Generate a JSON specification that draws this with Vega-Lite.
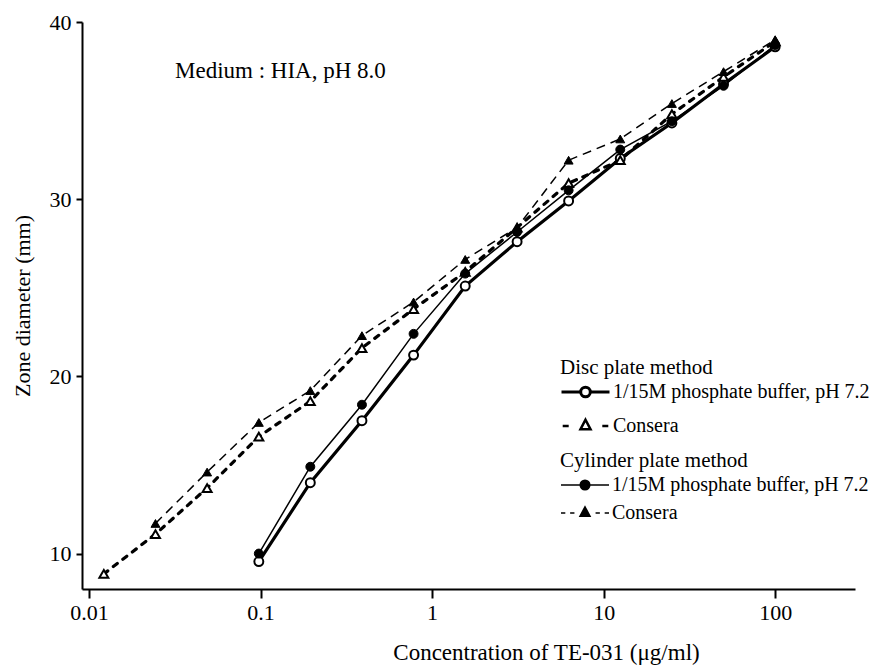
{
  "$schema": "https://vega.github.io/schema/vega-lite/v6.json",
  "width": 773,
  "height": 567,
  "autosize": "none",
  "padding": {"left": 82, "top": 22, "right": 39, "bottom": 81},
  "background": "white",
  "title": {
    "text": "Medium : HIA,  pH 8.0",
    "anchor": "start",
    "frame": "group",
    "orient": "top",
    "baseline": "alphabetic",
    "offset": -90,
    "dx": 93,
    "font": "Liberation Serif",
    "fontSize": 23,
    "fontWeight": "normal",
    "color": "black"
  },
  "data": {
    "values": [
      {"method": "Disc", "sample": "1/15M phosphate buffer, pH 7.2", "conc": 0.0977, "d": 9.55},
      {"method": "Disc", "sample": "1/15M phosphate buffer, pH 7.2", "conc": 0.195, "d": 14.0},
      {"method": "Disc", "sample": "1/15M phosphate buffer, pH 7.2", "conc": 0.39, "d": 17.5},
      {"method": "Disc", "sample": "1/15M phosphate buffer, pH 7.2", "conc": 0.78, "d": 21.2},
      {"method": "Disc", "sample": "1/15M phosphate buffer, pH 7.2", "conc": 1.56, "d": 25.1},
      {"method": "Disc", "sample": "1/15M phosphate buffer, pH 7.2", "conc": 3.13, "d": 27.6},
      {"method": "Disc", "sample": "1/15M phosphate buffer, pH 7.2", "conc": 6.25, "d": 29.9},
      {"method": "Disc", "sample": "1/15M phosphate buffer, pH 7.2", "conc": 12.5, "d": 32.3},
      {"method": "Disc", "sample": "1/15M phosphate buffer, pH 7.2", "conc": 25, "d": 34.3},
      {"method": "Disc", "sample": "1/15M phosphate buffer, pH 7.2", "conc": 50, "d": 36.5},
      {"method": "Disc", "sample": "1/15M phosphate buffer, pH 7.2", "conc": 100, "d": 38.6},
      {"method": "Disc", "sample": "Consera", "conc": 0.0122, "d": 8.85},
      {"method": "Disc", "sample": "Consera", "conc": 0.0244, "d": 11.1},
      {"method": "Disc", "sample": "Consera", "conc": 0.0488, "d": 13.7},
      {"method": "Disc", "sample": "Consera", "conc": 0.0977, "d": 16.6},
      {"method": "Disc", "sample": "Consera", "conc": 0.195, "d": 18.6},
      {"method": "Disc", "sample": "Consera", "conc": 0.39, "d": 21.6},
      {"method": "Disc", "sample": "Consera", "conc": 0.78, "d": 23.8},
      {"method": "Disc", "sample": "Consera", "conc": 1.56, "d": 25.9},
      {"method": "Disc", "sample": "Consera", "conc": 3.13, "d": 28.4},
      {"method": "Disc", "sample": "Consera", "conc": 6.25, "d": 30.9},
      {"method": "Disc", "sample": "Consera", "conc": 12.5, "d": 32.2},
      {"method": "Disc", "sample": "Consera", "conc": 25, "d": 34.8},
      {"method": "Disc", "sample": "Consera", "conc": 50, "d": 36.9},
      {"method": "Disc", "sample": "Consera", "conc": 100, "d": 38.9},
      {"method": "Cylinder", "sample": "1/15M phosphate buffer, pH 7.2", "conc": 0.0977, "d": 10.0},
      {"method": "Cylinder", "sample": "1/15M phosphate buffer, pH 7.2", "conc": 0.195, "d": 14.9},
      {"method": "Cylinder", "sample": "1/15M phosphate buffer, pH 7.2", "conc": 0.39, "d": 18.4},
      {"method": "Cylinder", "sample": "1/15M phosphate buffer, pH 7.2", "conc": 0.78, "d": 22.4},
      {"method": "Cylinder", "sample": "1/15M phosphate buffer, pH 7.2", "conc": 1.56, "d": 25.8},
      {"method": "Cylinder", "sample": "1/15M phosphate buffer, pH 7.2", "conc": 3.13, "d": 28.15},
      {"method": "Cylinder", "sample": "1/15M phosphate buffer, pH 7.2", "conc": 6.25, "d": 30.5},
      {"method": "Cylinder", "sample": "1/15M phosphate buffer, pH 7.2", "conc": 12.5, "d": 32.8},
      {"method": "Cylinder", "sample": "1/15M phosphate buffer, pH 7.2", "conc": 25, "d": 34.4},
      {"method": "Cylinder", "sample": "1/15M phosphate buffer, pH 7.2", "conc": 50, "d": 36.4},
      {"method": "Cylinder", "sample": "1/15M phosphate buffer, pH 7.2", "conc": 100, "d": 38.7},
      {"method": "Cylinder", "sample": "Consera", "conc": 0.0244, "d": 11.7},
      {"method": "Cylinder", "sample": "Consera", "conc": 0.0488, "d": 14.6},
      {"method": "Cylinder", "sample": "Consera", "conc": 0.0977, "d": 17.4},
      {"method": "Cylinder", "sample": "Consera", "conc": 0.195, "d": 19.2},
      {"method": "Cylinder", "sample": "Consera", "conc": 0.39, "d": 22.3},
      {"method": "Cylinder", "sample": "Consera", "conc": 0.78, "d": 24.2},
      {"method": "Cylinder", "sample": "Consera", "conc": 1.56, "d": 26.6},
      {"method": "Cylinder", "sample": "Consera", "conc": 3.13, "d": 28.4},
      {"method": "Cylinder", "sample": "Consera", "conc": 6.25, "d": 32.2},
      {"method": "Cylinder", "sample": "Consera", "conc": 12.5, "d": 33.4},
      {"method": "Cylinder", "sample": "Consera", "conc": 25, "d": 35.4},
      {"method": "Cylinder", "sample": "Consera", "conc": 50, "d": 37.2},
      {"method": "Cylinder", "sample": "Consera", "conc": 100, "d": 39.0}
    ]
  },
  "encoding": {
    "x": {
      "field": "conc",
      "type": "quantitative",
      "scale": {"type": "log", "domain": [0.0091, 292], "nice": false},
      "axis": {
        "title": "Concentration of TE-031 (μg/ml)",
        "values": [0.01, 0.1, 1, 10, 100],
        "format": "~g",
        "grid": false,
        "domainColor": "black",
        "domainWidth": 2,
        "tickColor": "black",
        "tickWidth": 2,
        "tickSize": 9,
        "labelFont": "Liberation Serif",
        "labelFontSize": 22,
        "labelColor": "black",
        "labelPadding": 4,
        "titleFont": "Liberation Serif",
        "titleFontSize": 23,
        "titleFontWeight": "normal",
        "titleColor": "black",
        "titleX": 464,
        "titleY": 63,
        "titleBaseline": "middle"
      }
    },
    "y": {
      "field": "d",
      "type": "quantitative",
      "scale": {"domain": [8, 40], "nice": false, "zero": false},
      "axis": {
        "title": "Zone diameter (mm)",
        "values": [10, 20, 30, 40],
        "grid": false,
        "domainColor": "black",
        "domainWidth": 2,
        "tickColor": "black",
        "tickWidth": 2,
        "tickSize": 6,
        "labelFont": "Liberation Serif",
        "labelFontSize": 22,
        "labelColor": "black",
        "labelPadding": 5,
        "titleFont": "Liberation Serif",
        "titleFontSize": 22,
        "titleFontWeight": "normal",
        "titleColor": "black",
        "titleX": -60,
        "titleBaseline": "middle"
      }
    }
  },
  "layer": [
    {
      "transform": [{"filter": "datum.method === 'Disc' && datum.sample !== 'Consera'"}],
      "mark": {"type": "line", "stroke": "black", "strokeWidth": 3.2, "strokeCap": "round"},
      "encoding": {
        "opacity": {
          "field": "sample",
          "type": "ordinal",
          "scale": {"type": "ordinal", "range": [1]},
          "legend": {
            "title": "Disc plate method",
            "orient": "none",
            "legendX": 478,
            "legendY": 335,
            "padding": 0,
            "symbolType": "M-1,0L-0.2,0M0.2,0L1,0M-0.2,0A0.2,0.2,0,1,1,0.2,0A0.2,0.2,0,1,1,-0.2,0Z",
            "symbolSize": 2304,
            "symbolFillColor": "white",
            "symbolStrokeColor": "black",
            "symbolStrokeWidth": 3,
            "clipHeight": 28,
            "titlePadding": 0,
            "labelOffset": 2,
            "titleFont": "Liberation Serif",
            "titleFontSize": 21,
            "titleFontWeight": "normal",
            "titleColor": "black",
            "titleLimit": 400,
            "labelFont": "Liberation Serif",
            "labelFontSize": 20,
            "labelColor": "black",
            "labelLimit": 400
          }
        }
      }
    },
    {
      "transform": [{"filter": "datum.method === 'Disc' && datum.sample === 'Consera'"}],
      "mark": {"type": "line", "stroke": "black", "strokeWidth": 3.2, "strokeCap": "round"},
      "encoding": {
        "strokeDash": {
          "condition": {"test": "datum.sample === 'Consera'", "value": [5, 7]},
          "value": [1, 0]
        },
        "opacity": {
          "field": "sample",
          "type": "ordinal",
          "scale": {"type": "ordinal", "range": [1]},
          "legend": {
            "title": null,
            "orient": "none",
            "legendX": 478,
            "legendY": 390,
            "padding": 0,
            "symbolType": "M-0.95,0L-0.7,0M0.7,0L0.95,0M0,-0.26L0.21,0.14L-0.21,0.14Z",
            "symbolSize": 2304,
            "symbolFillColor": "white",
            "symbolStrokeColor": "black",
            "symbolStrokeWidth": 2.5,
            "clipHeight": 28,
            "labelOffset": 2,
            "labelFont": "Liberation Serif",
            "labelFontSize": 20,
            "labelColor": "black",
            "labelLimit": 400
          }
        }
      }
    },
    {
      "transform": [{"filter": "datum.method === 'Cylinder' && datum.sample !== 'Consera'"}],
      "mark": {"type": "line", "stroke": "black", "strokeWidth": 1.5},
      "encoding": {
        "opacity": {
          "field": "sample",
          "type": "ordinal",
          "scale": {"type": "ordinal", "range": [1]},
          "legend": {
            "title": "Cylinder plate method",
            "orient": "none",
            "legendX": 478,
            "legendY": 428,
            "padding": 0,
            "symbolType": "M-1,0L-0.2,0M0.2,0L1,0M-0.2,0A0.2,0.2,0,1,1,0.2,0A0.2,0.2,0,1,1,-0.2,0Z",
            "symbolSize": 2304,
            "symbolFillColor": "black",
            "symbolStrokeColor": "black",
            "symbolStrokeWidth": 1.5,
            "clipHeight": 28,
            "titlePadding": 0,
            "labelOffset": 2,
            "titleFont": "Liberation Serif",
            "titleFontSize": 21,
            "titleFontWeight": "normal",
            "titleColor": "black",
            "titleLimit": 400,
            "labelFont": "Liberation Serif",
            "labelFontSize": 20,
            "labelColor": "black",
            "labelLimit": 400
          }
        }
      }
    },
    {
      "transform": [{"filter": "datum.method === 'Cylinder' && datum.sample === 'Consera'"}],
      "mark": {"type": "line", "stroke": "black", "strokeWidth": 1.5},
      "encoding": {
        "strokeDash": {
          "condition": {"test": "datum.sample === 'Consera'", "value": [9, 6]},
          "value": [1, 0]
        },
        "opacity": {
          "field": "sample",
          "type": "ordinal",
          "scale": {"type": "ordinal", "range": [1]},
          "legend": {
            "title": null,
            "orient": "none",
            "legendX": 478,
            "legendY": 477,
            "padding": 0,
            "symbolType": "M-1,0L-0.82,0M-0.62,0L-0.44,0M0.44,0L0.62,0M0.82,0L1,0M0,-0.26L0.21,0.14L-0.21,0.14Z",
            "symbolSize": 2304,
            "symbolFillColor": "black",
            "symbolStrokeColor": "black",
            "symbolStrokeWidth": 1.5,
            "clipHeight": 28,
            "labelOffset": 2,
            "labelFont": "Liberation Serif",
            "labelFontSize": 20,
            "labelColor": "black",
            "labelLimit": 400
          }
        }
      }
    },
    {
      "transform": [{"filter": "datum.method === 'Disc'"}],
      "mark": {"type": "point", "filled": true, "fill": "white", "stroke": "black", "strokeWidth": 2, "size": 80, "opacity": 1},
      "encoding": {
        "shape": {
          "field": "sample",
          "type": "nominal",
          "scale": {"domain": ["1/15M phosphate buffer, pH 7.2", "Consera"], "range": ["circle", "triangle-up"]},
          "legend": null
        }
      }
    },
    {
      "transform": [{"filter": "datum.method === 'Cylinder'"}],
      "mark": {"type": "point", "filled": true, "fill": "black", "stroke": "black", "strokeWidth": 1, "size": 80, "opacity": 1},
      "encoding": {
        "shape": {
          "field": "sample",
          "type": "nominal",
          "scale": {"domain": ["1/15M phosphate buffer, pH 7.2", "Consera"], "range": ["circle", "triangle-up"]},
          "legend": null
        }
      }
    }
  ],
  "resolve": {
    "scale": {"opacity": "independent"},
    "legend": {"opacity": "independent"}
  },
  "config": {
    "view": {"stroke": null},
    "font": "Liberation Serif"
  }
}
